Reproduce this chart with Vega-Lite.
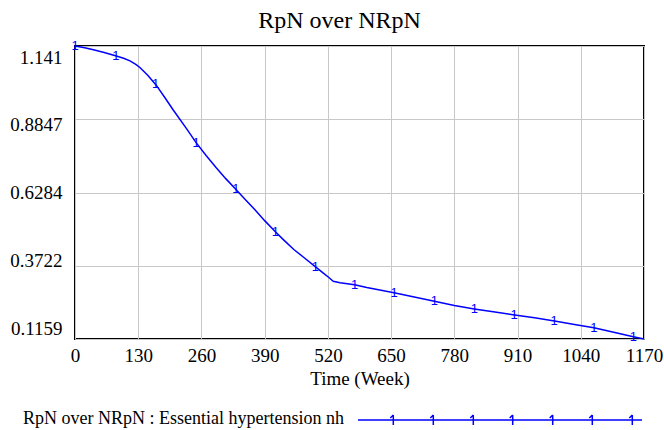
{
  "$schema": "https://vega.github.io/schema/vega-lite/v6.json",
  "autosize": {"type": "none"},
  "width": 569,
  "height": 293,
  "padding": {"left": 75, "top": 46, "right": 20, "bottom": 91},
  "background": "white",
  "config": {"view": {"stroke": "black", "strokeWidth": 2}, "font": "Liberation Serif"},
  "title": {"text": "RpN over NRpN", "font": "Liberation Serif", "fontSize": 24, "fontWeight": "normal", "color": "black", "anchor": "middle", "frame": "group", "dx": -20, "dy": 30, "offset": 18, "baseline": "alphabetic"},
  "datasets": {
    "series": [
      {"time": 0, "value": 1.141, "series": "RpN over NRpN : Essential hypertension nh"},
      {"time": 20, "value": 1.135, "series": "RpN over NRpN : Essential hypertension nh"},
      {"time": 40, "value": 1.127, "series": "RpN over NRpN : Essential hypertension nh"},
      {"time": 60, "value": 1.118, "series": "RpN over NRpN : Essential hypertension nh"},
      {"time": 85, "value": 1.106, "series": "RpN over NRpN : Essential hypertension nh"},
      {"time": 100, "value": 1.098, "series": "RpN over NRpN : Essential hypertension nh"},
      {"time": 113, "value": 1.089, "series": "RpN over NRpN : Essential hypertension nh"},
      {"time": 125, "value": 1.077, "series": "RpN over NRpN : Essential hypertension nh"},
      {"time": 134, "value": 1.065, "series": "RpN over NRpN : Essential hypertension nh"},
      {"time": 150, "value": 1.038, "series": "RpN over NRpN : Essential hypertension nh"},
      {"time": 167, "value": 1.004, "series": "RpN over NRpN : Essential hypertension nh"},
      {"time": 185, "value": 0.960, "series": "RpN over NRpN : Essential hypertension nh"},
      {"time": 202, "value": 0.917, "series": "RpN over NRpN : Essential hypertension nh"},
      {"time": 230, "value": 0.850, "series": "RpN over NRpN : Essential hypertension nh"},
      {"time": 249, "value": 0.803, "series": "RpN over NRpN : Essential hypertension nh"},
      {"time": 270, "value": 0.757, "series": "RpN over NRpN : Essential hypertension nh"},
      {"time": 290, "value": 0.716, "series": "RpN over NRpN : Essential hypertension nh"},
      {"time": 310, "value": 0.677, "series": "RpN over NRpN : Essential hypertension nh"},
      {"time": 332, "value": 0.637, "series": "RpN over NRpN : Essential hypertension nh"},
      {"time": 350, "value": 0.604, "series": "RpN over NRpN : Essential hypertension nh"},
      {"time": 370, "value": 0.568, "series": "RpN over NRpN : Essential hypertension nh"},
      {"time": 390, "value": 0.530, "series": "RpN over NRpN : Essential hypertension nh"},
      {"time": 412, "value": 0.491, "series": "RpN over NRpN : Essential hypertension nh"},
      {"time": 430, "value": 0.461, "series": "RpN over NRpN : Essential hypertension nh"},
      {"time": 450, "value": 0.429, "series": "RpN over NRpN : Essential hypertension nh"},
      {"time": 470, "value": 0.402, "series": "RpN over NRpN : Essential hypertension nh"},
      {"time": 494, "value": 0.369, "series": "RpN over NRpN : Essential hypertension nh"},
      {"time": 510, "value": 0.347, "series": "RpN over NRpN : Essential hypertension nh"},
      {"time": 522, "value": 0.331, "series": "RpN over NRpN : Essential hypertension nh"},
      {"time": 531, "value": 0.318, "series": "RpN over NRpN : Essential hypertension nh"},
      {"time": 545, "value": 0.313, "series": "RpN over NRpN : Essential hypertension nh"},
      {"time": 575, "value": 0.306, "series": "RpN over NRpN : Essential hypertension nh"},
      {"time": 600, "value": 0.296, "series": "RpN over NRpN : Essential hypertension nh"},
      {"time": 656, "value": 0.278, "series": "RpN over NRpN : Essential hypertension nh"},
      {"time": 700, "value": 0.262, "series": "RpN over NRpN : Essential hypertension nh"},
      {"time": 739, "value": 0.248, "series": "RpN over NRpN : Essential hypertension nh"},
      {"time": 780, "value": 0.233, "series": "RpN over NRpN : Essential hypertension nh"},
      {"time": 821, "value": 0.221, "series": "RpN over NRpN : Essential hypertension nh"},
      {"time": 860, "value": 0.211, "series": "RpN over NRpN : Essential hypertension nh"},
      {"time": 904, "value": 0.200, "series": "RpN over NRpN : Essential hypertension nh"},
      {"time": 945, "value": 0.190, "series": "RpN over NRpN : Essential hypertension nh"},
      {"time": 986, "value": 0.179, "series": "RpN over NRpN : Essential hypertension nh"},
      {"time": 1030, "value": 0.166, "series": "RpN over NRpN : Essential hypertension nh"},
      {"time": 1067, "value": 0.155, "series": "RpN over NRpN : Essential hypertension nh"},
      {"time": 1110, "value": 0.139, "series": "RpN over NRpN : Essential hypertension nh"},
      {"time": 1148, "value": 0.124, "series": "RpN over NRpN : Essential hypertension nh"},
      {"time": 1170, "value": 0.1159, "series": "RpN over NRpN : Essential hypertension nh"}
    ],
    "markers": [
      {"time": 0, "value": 1.141},
      {"time": 84, "value": 1.107},
      {"time": 166, "value": 1.007},
      {"time": 249, "value": 0.803},
      {"time": 331, "value": 0.639},
      {"time": 412, "value": 0.491},
      {"time": 494, "value": 0.369},
      {"time": 575, "value": 0.306},
      {"time": 656, "value": 0.278},
      {"time": 739, "value": 0.248},
      {"time": 821, "value": 0.221},
      {"time": 903, "value": 0.200},
      {"time": 985, "value": 0.179},
      {"time": 1067, "value": 0.155},
      {"time": 1148, "value": 0.124}
    ]
  },
  "layer": [
    {
      "data": {"name": "series"},
      "mark": {"type": "line", "strokeWidth": 1.5},
      "encoding": {
        "x": {
          "field": "time", "type": "quantitative",
          "scale": {"domain": [0, 1170], "nice": false, "zero": false},
          "axis": {
            "values": [0, 65, 130, 195, 260, 325, 390, 455, 520, 585, 650, 715, 780, 845, 910, 975, 1040, 1105, 1170],
            "format": "d",
            "labelExpr": "datum.value % 130 == 0 ? datum.label : ''",
            "grid": true, "gridColor": "#c8c8c8", "gridWidth": 1,
            "ticks": false, "domain": false,
            "labelFont": "Liberation Serif", "labelFontSize": 19, "labelColor": "black",
            "labelPadding": 7, "labelFlush": false, "labelOverlap": false, "labelBound": false,
            "title": "Time (Week)", "titleFont": "Liberation Serif", "titleFontSize": 19,
            "titleFontWeight": "normal", "titleColor": "black", "titlePadding": 4
          }
        },
        "y": {
          "field": "value", "type": "quantitative",
          "scale": {"domain": [0.1159, 1.141], "nice": false, "zero": false},
          "axis": {
            "values": [0.1159, 0.24403, 0.3722, 0.50028, 0.6284, 0.75653, 0.8847, 1.01278, 1.141],
            "labelExpr": "round((datum.value-0.1159)/0.128125) % 2 == 0 ? format(datum.value, '.4~r') : ''",
            "labelOffset": {"expr": "-11 + 2.75*round((datum.value-0.1159)/0.128125)"},
            "grid": true, "gridColor": "#c8c8c8", "gridWidth": 1,
            "ticks": false, "domain": false,
            "labelFont": "Liberation Serif", "labelFontSize": 19, "labelColor": "black",
            "labelPadding": 13, "labelFlush": false, "labelOverlap": false, "labelBound": false,
            "title": null
          }
        },
        "color": {
          "field": "series", "type": "nominal",
          "scale": {"range": ["#0000ff"]},
          "legend": {
            "orient": "none", "legendX": -52, "legendY": 363,
            "title": "RpN over NRpN : Essential hypertension nh",
            "titleOrient": "left", "titleLimit": 0,
            "titleFont": "Liberation Serif", "titleFontSize": 18, "titleFontWeight": "normal", "titleColor": "black",
            "titleBaseline": "middle", "titlePadding": 3,
            "labelExpr": "''",
            "symbolType": "M0,0H28.4M3.53,-0.5V0.5M3.23,-0.2L3.53,-0.5M7.53,-0.5V0.5M7.23,-0.2L7.53,-0.5M11.53,-0.5V0.5M11.23,-0.2L11.53,-0.5M15.47,-0.5V0.5M15.17,-0.2L15.47,-0.5M19.47,-0.5V0.5M19.17,-0.2L19.47,-0.5M23.43,-0.5V0.5M23.13,-0.2L23.43,-0.5M27.43,-0.5V0.5M27.13,-0.2L27.43,-0.5",
            "symbolSize": 400, "symbolStrokeWidth": 1.5, "symbolFillColor": "transparent"
          }
        }
      }
    },
    {
      "data": {"name": "markers"},
      "mark": {"type": "text", "text": "1", "font": "Liberation Sans", "fontSize": 13, "color": "#0000ff", "baseline": "middle"},
      "encoding": {
        "x": {"field": "time", "type": "quantitative"},
        "y": {"field": "value", "type": "quantitative"}
      }
    }
  ]
}
